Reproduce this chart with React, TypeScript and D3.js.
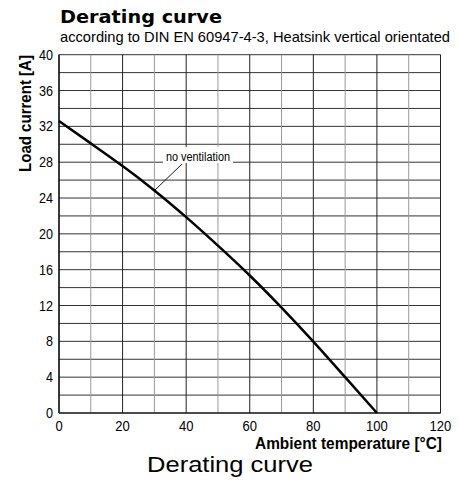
import * as d3 from "d3";

const temps = [0, 10, 20, 30, 40, 50, 60, 70, 80, 90, 100];
const current = [32.6, 30.1, 27.6, 24.9, 21.9, 18.7, 15.4, 11.8, 8, 4, 0];
const xTicks = [0, 20, 40, 60, 80, 100, 120];
const yTicks = [0, 4, 8, 12, 16, 20, 24, 28, 32, 36, 40];

const W = 459;
const H = 482;
const sans = "'Liberation Sans', Arial, sans-serif";

// condensed text: the narrow originals aren't installed, so squeeze horizontally
const CText = (p: {
  x: number; y: number; size: number; sx?: number; anchor?: string; bold?: boolean; children: any;
}) => (
  <text
    transform={`translate(${p.x},${p.y}) scale(${p.sx ?? 0.9},1)`}
    textAnchor={p.anchor ?? "start"}
    fontFamily={sans}
    fontWeight={p.bold ? "bold" : "normal"}
    fontSize={p.size}
  >
    {p.children}
  </text>
);

export default function App() {
  const x = d3.scaleLinear().domain([0, 120]).range([59, 440.5]);
  const y = d3.scaleLinear().domain([0, 40]).range([413, 54.7]);

  const line = d3
    .line<number>()
    .x((_, i) => x(temps[i]))
    .y((d) => y(d))
    .curve(d3.curveBasis);

  const vLines = d3.range(0, 121, 10);
  const hLines = d3.range(0, 41, 2);

  return (
    <svg width={W} height={H} style={{ position: "absolute", left: 0, top: 0, background: "#fff" }}>
      <text x={60} y={23} fontFamily="'DejaVu Sans', sans-serif" fontWeight="bold" fontSize={18.5}
        textLength={162} lengthAdjust="spacingAndGlyphs">Derating curve</text>
      <text x={60} y={42} fontFamily={sans} fontSize={15}
        textLength={390} lengthAdjust="spacingAndGlyphs">according to DIN EN 60947-4-3, Heatsink vertical orientated</text>

      {hLines.map((v) => (
        <line key={"h" + v} x1={x(0)} x2={x(120)} y1={y(v)} y2={y(v)} stroke="#333" strokeWidth={1} />
      ))}
      {vLines.map((v) => (
        <line key={"v" + v} x1={x(v)} x2={x(v)} y1={y(0)} y2={y(40)}
          stroke={v % 20 === 0 ? "#222" : "#999"} strokeWidth={1} />
      ))}
      <line x1={x(0)} x2={x(0)} y1={y(0)} y2={y(40)} stroke="#000" strokeWidth={1.2} />
      <line x1={x(0)} x2={x(120)} y1={y(0)} y2={y(0)} stroke="#000" strokeWidth={1.2} />

      <path d={line(current) as string} fill="none" stroke="#000" strokeWidth={2.5} />

      <line x1={155} y1={190} x2={182} y2={164} stroke="#000" strokeWidth={0.9} />
      <rect x={163} y={147} width={70} height={16} fill="#fff" />
      <text x={166} y={160.5} fontFamily={sans} fontSize={12}
        textLength={64} lengthAdjust="spacingAndGlyphs">no ventilation</text>

      {yTicks.map((v) => (
        <CText key={"yt" + v} x={53} y={y(v) + 5} size={14} anchor="end">{v}</CText>
      ))}
      {xTicks.map((v) => (
        <CText key={"xt" + v} x={x(v)} y={431} size={14.5} anchor="middle">{v}</CText>
      ))}

      <text x={255} y={449} fontFamily={sans} fontWeight="bold" fontSize={16.5}
        textLength={187} lengthAdjust="spacingAndGlyphs">Ambient temperature [°C]</text>
      <text transform={`translate(31,172) rotate(-90)`} fontFamily={sans} fontWeight="bold"
        fontSize={16.5} textLength={117} lengthAdjust="spacingAndGlyphs">Load current [A]</text>

      <text x={230} y={472} textAnchor="middle" fontFamily={sans} fontSize={21.5}
        textLength={166} lengthAdjust="spacingAndGlyphs">Derating curve</text>
    </svg>
  );
}
